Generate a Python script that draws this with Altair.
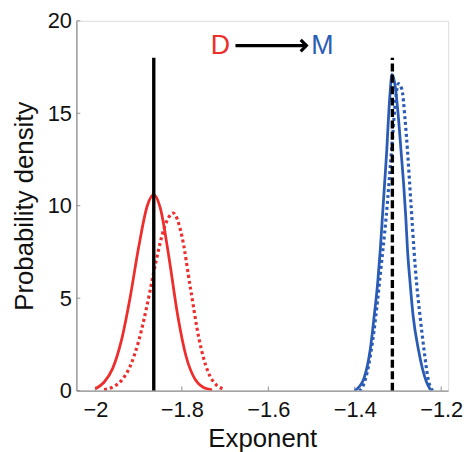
import altair as alt
import pandas as pd

# --- data ---
red_solid_x = [-2.00, -1.98, -1.96, -1.94, -1.92, -1.90, -1.88, -1.865, -1.85, -1.83, -1.81, -1.79, -1.77, -1.75, -1.73]
red_solid_y = [0.10, 0.45, 1.20, 2.70, 5.00, 7.75, 10.0, 10.6, 9.88, 7.23, 4.12, 1.83, 0.63, 0.17, 0.04]

red_dot_x = [-1.98, -1.96, -1.94, -1.92, -1.90, -1.88, -1.86, -1.84, -1.82, -1.80, -1.78, -1.76, -1.74, -1.72, -1.70]
red_dot_y = [0.06, 0.19, 0.54, 1.30, 2.67, 4.67, 6.97, 8.86, 9.60, 8.36, 5.52, 2.76, 1.05, 0.30, 0.07]

blue_solid_x = [-1.400, -1.390, -1.379, -1.364, -1.355, -1.347, -1.341, -1.336, -1.331, -1.326, -1.322, -1.318,
                -1.314, -1.307, -1.299, -1.293, -1.287, -1.282, -1.278, -1.272, -1.265, -1.253, -1.234, -1.225]
blue_solid_y = [0.00, 0.20, 0.64, 2.25, 4.04, 5.83, 7.61, 9.40, 11.19, 12.98, 14.76, 16.20,
                17.10, 16.55, 14.76, 12.98, 11.19, 9.40, 7.61, 5.83, 4.04, 2.25, 0.46, 0.05]

blue_dot_x = [-1.390, -1.383, -1.368, -1.356, -1.347, -1.339, -1.331, -1.324, -1.318, -1.312, -1.306, -1.299,
              -1.291, -1.284, -1.278, -1.273, -1.268, -1.263, -1.257, -1.249, -1.240, -1.230, -1.220]
blue_dot_y = [0.00, 0.15, 1.36, 3.15, 4.93, 6.72, 8.50, 10.30, 12.08, 13.87, 15.66, 16.60,
              16.30, 14.76, 12.98, 11.19, 9.40, 7.61, 5.83, 4.04, 2.25, 0.60, 0.00]

vline_solid_x = [-1.865]
vline_dash_x = [-1.313]
vline_top = [18.0]

x_ticks = [-2, -1.8, -1.6, -1.4, -1.2]
y_ticks = [0, 5, 10, 15, 20]

label_text = ["D", "M"]
label_x = [-1.711, -1.475]
label_y = [18.66, 18.66]
arrow_x = [-1.676]
arrow_x2 = [-1.512]

RED = "#ee2d2d"
BLUE = "#2b5cb5"
FONT = "Liberation Sans"
AXIS_GRAY = "#8f8f8f"

xscale = alt.Scale(domain=[-2.044, -1.184], nice=False, zero=False)
yscale = alt.Scale(domain=[0, 20], nice=False, zero=False)

xaxis = alt.Axis(values=x_ticks, format="~g", title="Exponent", grid=False, ticks=False,
                 domainColor=AXIS_GRAY, domainWidth=1.3, labelFontSize=22, labelFont=FONT,
                 labelColor="#111", labelPadding=9, titleFontSize=26, titleFont=FONT,
                 titleFontWeight="normal", titleColor="#111", titlePadding=5, labelFlush=False)
yaxis = alt.Axis(values=y_ticks, format="~g", title="Probability density", grid=False, ticks=False,
                 domainColor=AXIS_GRAY, domainWidth=1.3, labelFontSize=22, labelFont=FONT,
                 labelColor="#111", labelPadding=5, titleFontSize=26, titleFont=FONT,
                 titleFontWeight="normal", titleColor="#111", titlePadding=10, labelFlush=False)


def frame(xs, ys):
    return pd.DataFrame({"x": xs, "y": ys})


def enc_xy(xf="x", yf="y"):
    return dict(x=alt.X(f"{xf}:Q", scale=xscale, axis=xaxis),
                y=alt.Y(f"{yf}:Q", scale=yscale, axis=yaxis))


def curve(xs, ys, color, dash=None, width=2.8):
    kw = dict(color=color, strokeWidth=width, interpolate="monotone", clip=True)
    if dash is not None:
        kw["strokeDash"] = dash
        kw["strokeCap"] = "butt"
    return alt.Chart(frame(xs, ys)).mark_line(**kw).encode(**enc_xy())


vl_df = pd.DataFrame({"x": vline_solid_x, "y0": [0.0], "y1": vline_top})
vd_df = pd.DataFrame({"x": vline_dash_x, "y0": [0.0], "y1": vline_top})

vsolid = alt.Chart(vl_df).mark_rule(color="black", strokeWidth=3.4).encode(**enc_xy("x", "y0"), y2="y1:Q")
vdash = alt.Chart(vd_df).mark_rule(color="black", strokeWidth=3.4, strokeDash=[8, 3.5]).encode(
    **enc_xy("x", "y0"), y2="y1:Q")

# small inward tick marks
xt_df = pd.DataFrame({"x": x_ticks, "y0": [0.0] * 5, "y1": [0.22] * 5})
xt = alt.Chart(xt_df).mark_rule(color=AXIS_GRAY, strokeWidth=1).encode(**enc_xy("x", "y0"), y2="y1:Q")
yt_df = pd.DataFrame({"y": y_ticks, "x0": [-2.044] * 5, "x1": [-2.035] * 5})
yt = alt.Chart(yt_df).mark_rule(color=AXIS_GRAY, strokeWidth=1).encode(**enc_xy("x0", "y"), x2="x1:Q")

lab_df = pd.DataFrame({"t": label_text, "x": label_x, "y": label_y, "c": [RED, BLUE]})
labels = alt.Chart(lab_df).mark_text(font=FONT, fontSize=27, align="center", baseline="middle").encode(
    **enc_xy(), text="t:N", color=alt.Color("c:N", scale=None))

ar_df = pd.DataFrame({"x": arrow_x, "x2": arrow_x2, "y": [label_y[0]]})
arrow_shaft = alt.Chart(ar_df).mark_rule(color="black", strokeWidth=3.2).encode(**enc_xy(), x2="x2:Q")
arrow_head = alt.Chart(ar_df).mark_point(shape="M-1,-1L0,0L-1,1", filled=False, color="black",
                                          strokeWidth=3.2, size=130, opacity=1).encode(**enc_xy("x2", "y"))

chart = alt.layer(
    xt,
    yt,
    curve(red_solid_x, red_solid_y, RED),
    curve(red_dot_x, red_dot_y, RED, dash=[3, 3], width=3.2),
    curve(blue_solid_x, blue_solid_y, BLUE),
    curve(blue_dot_x, blue_dot_y, BLUE, dash=[3, 3], width=3.2),
    vsolid,
    vdash,
    arrow_shaft,
    arrow_head,
    labels,
).properties(
    width=375, height=373,
    autosize=alt.AutoSizeParams(type="none"),
    padding={"left": 69, "top": 11, "right": 15, "bottom": 60},
).configure_view(stroke=None).configure(background="white")

chart.save("out.html", embed_options={"renderer": "svg", "actions": False})
